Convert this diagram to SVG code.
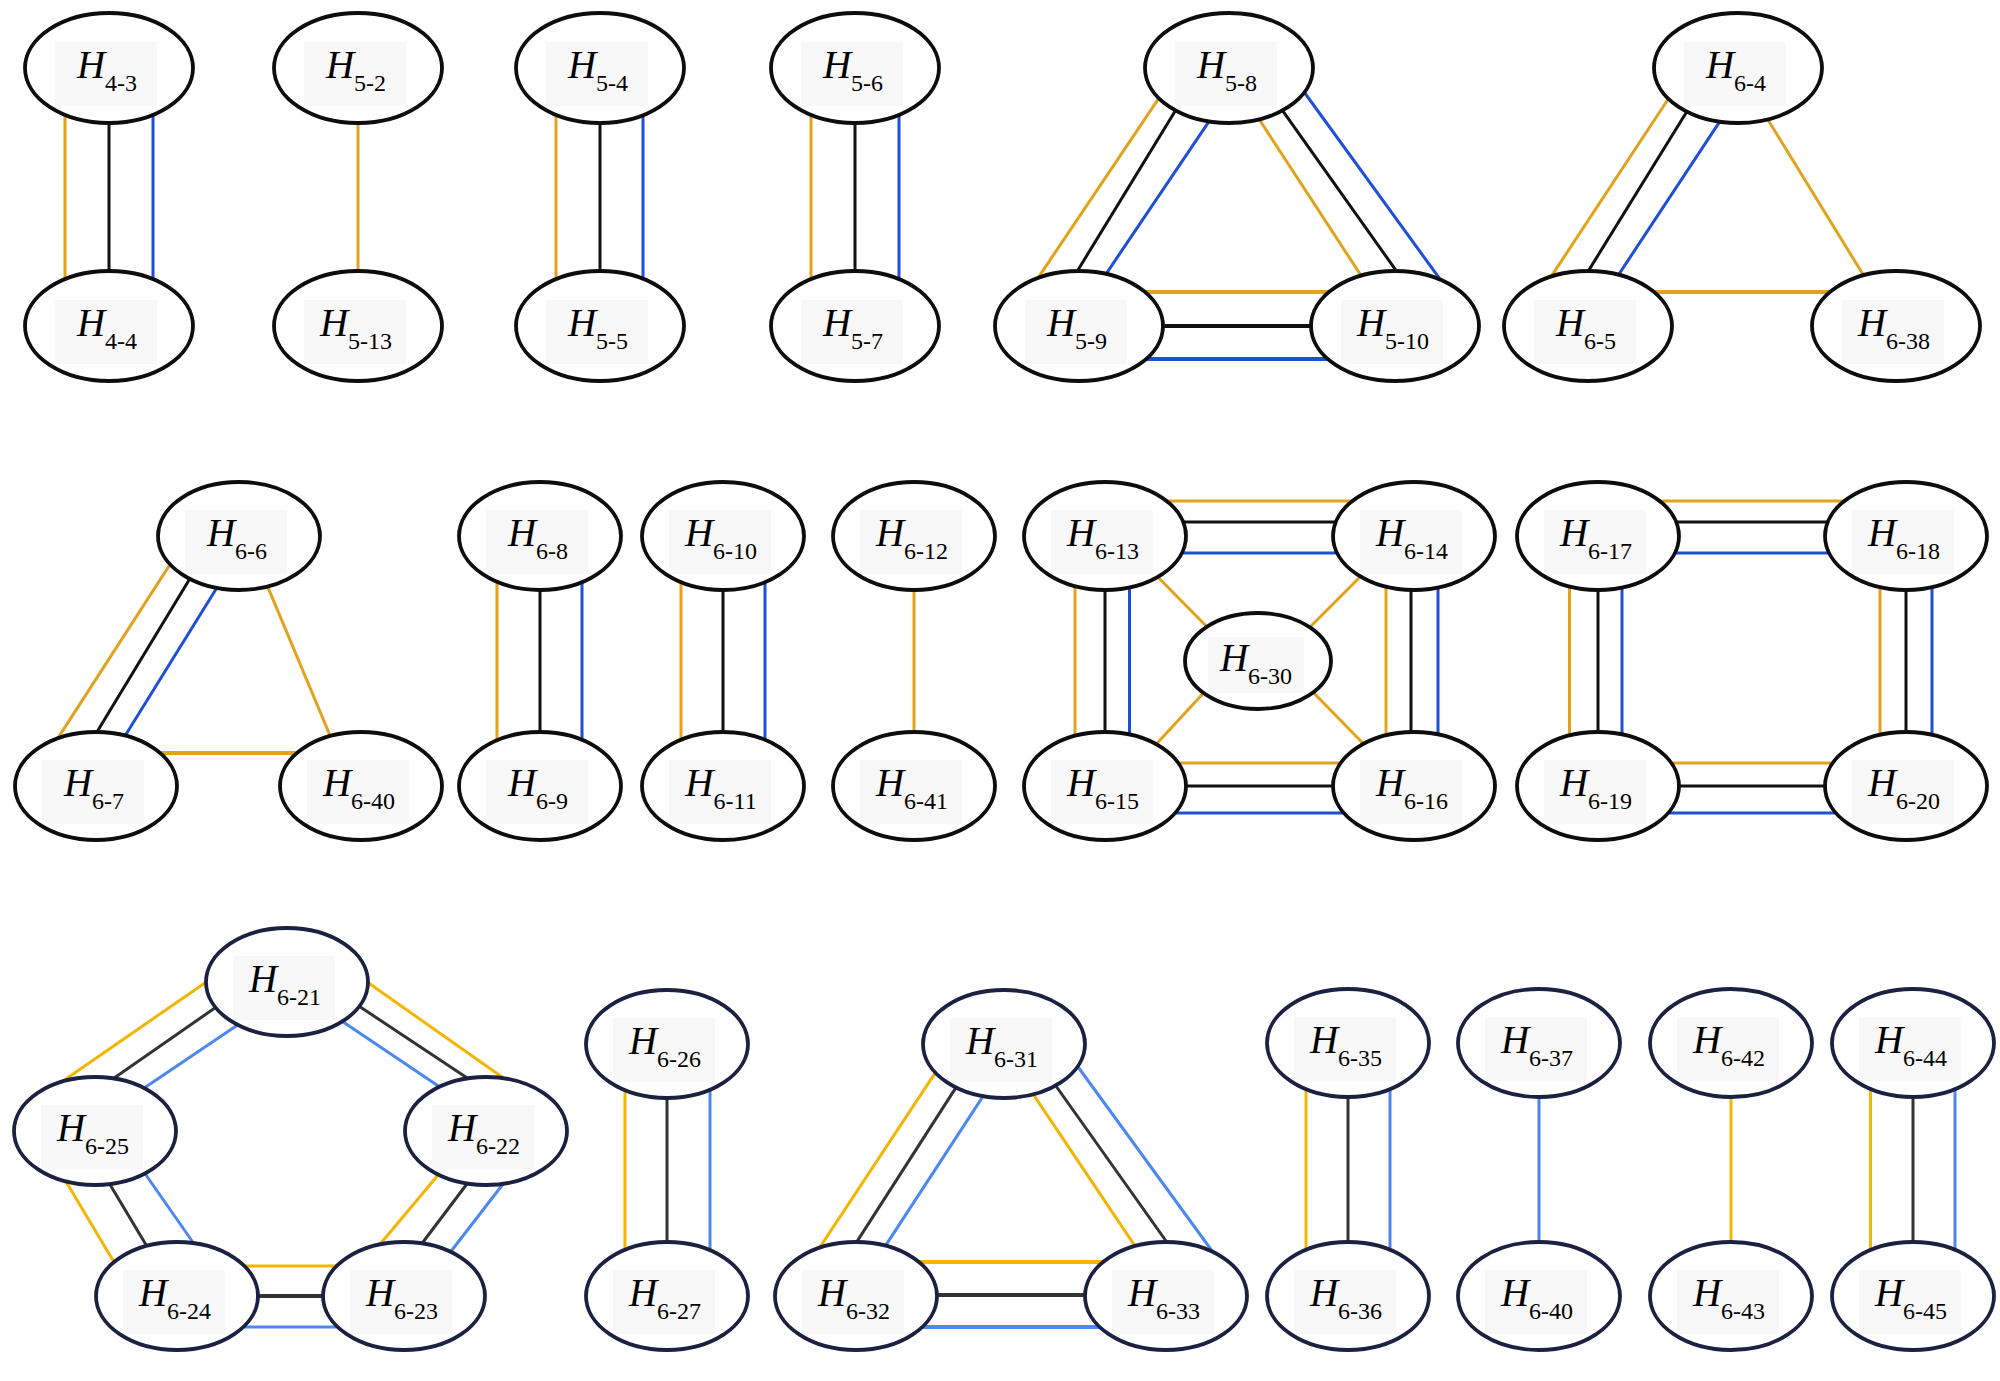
<svg xmlns="http://www.w3.org/2000/svg" width="2000" height="1381" viewBox="0 0 2000 1381">
<style>
.bg{fill:#ffffff}
line{stroke-width:3;fill:none}
.o1{stroke:#e2a31c}
.k1{stroke:#111111}
.b1{stroke:#1f4fd6}
.o3{stroke:#f5b505}
.k3{stroke:#333333}
.b3{stroke:#4d87f0}
.w{stroke-width:4}
.n{fill:#ffffff;stroke:#0d0d0d;stroke-width:3.8}
.n3{fill:#ffffff;stroke:#1b2140;stroke-width:3.8}
.lb{fill:#f8f8f8}
.t{font-family:"Liberation Serif","Times New Roman",serif;font-size:39px;font-style:italic;fill:#000;text-anchor:middle}
.s{font-size:24px;font-style:normal}
</style>
<rect class="bg" x="0" y="0" width="2000" height="1381"/>
<g id="connectors">
<!-- H4-3 / H4-4 -->
<line class="o1" x1="65" y1="68" x2="65" y2="326"/>
<line class="k1" x1="109" y1="68" x2="109" y2="326"/>
<line class="b1" x1="153" y1="68" x2="153" y2="326"/>
<!-- H5-2 / H5-13 -->
<line class="o1" x1="358" y1="68" x2="358" y2="326"/>
<!-- H5-4 / H5-5 -->
<line class="o1" x1="556" y1="68" x2="556" y2="326"/>
<line class="k1" x1="600" y1="68" x2="600" y2="326"/>
<line class="b1" x1="643" y1="68" x2="643" y2="326"/>
<!-- H5-6 / H5-7 -->
<line class="o1" x1="811" y1="68" x2="811" y2="326"/>
<line class="k1" x1="855" y1="68" x2="855" y2="326"/>
<line class="b1" x1="899" y1="68" x2="899" y2="326"/>
<!-- H5-8 triangle -->
<line class="o1" x1="1164.6" y1="89.7" x2="1032.4" y2="286.3"/>
<line class="k1" x1="1181" y1="101.5" x2="1073.4" y2="277.5"/>
<line class="b1" x1="1213.6" y1="114.7" x2="1100.4" y2="282.3"/>
<line class="o1" x1="1253.5" y1="110.6" x2="1365.5" y2="282.4"/>
<line class="k1" x1="1277.8" y1="103.8" x2="1400.8" y2="277.2"/>
<line class="b1" x1="1299" y1="85" x2="1445" y2="286"/>
<line class="o1 w" x1="1079" y1="292" x2="1395" y2="292"/>
<line class="k1 w" x1="1079" y1="326" x2="1395" y2="326"/>
<line class="b1 w" x1="1079" y1="359" x2="1395" y2="359"/>
<!-- H6-4 triangle -->
<line class="o1" x1="1673.5" y1="91" x2="1545.3" y2="285.4"/>
<line class="k1" x1="1692" y1="103.2" x2="1584.3" y2="277.5"/>
<line class="b1" x1="1724.5" y1="114.4" x2="1612.9" y2="283.3"/>
<line class="o1" x1="1763.3" y1="112.2" x2="1869.2" y2="284.5"/>
<line class="o1 w" x1="1588" y1="292" x2="1896" y2="292"/>
<!-- H6-6 triangle -->
<line class="o1" x1="174.4" y1="557.6" x2="52.6" y2="746.4"/>
<line class="k1" x1="193" y1="573.5" x2="92.4" y2="739.5"/>
<line class="b1" x1="222" y1="579.5" x2="120.3" y2="743.5"/>
<line class="o1" x1="264" y1="577.8" x2="334" y2="745"/>
<line class="o1 w" x1="96" y1="753" x2="361" y2="753"/>
<!-- H6-8 / H6-9 -->
<line class="o1" x1="497" y1="536" x2="497" y2="786"/>
<line class="k1" x1="540" y1="536" x2="540" y2="786"/>
<line class="b1" x1="582" y1="536" x2="582" y2="786"/>
<!-- H6-10 / H6-11 -->
<line class="o1" x1="681" y1="536" x2="681" y2="786"/>
<line class="k1" x1="723" y1="536" x2="723" y2="786"/>
<line class="b1" x1="765" y1="536" x2="765" y2="786"/>
<!-- H6-12 / H6-41 -->
<line class="o1" x1="914" y1="536" x2="914" y2="786"/>
<!-- H6-13 square -->
<line class="o1" x1="1105" y1="501" x2="1414" y2="501"/>
<line class="k1" x1="1105" y1="522" x2="1414" y2="522"/>
<line class="b1" x1="1105" y1="553" x2="1414" y2="553"/>
<line class="o1" x1="1075" y1="536" x2="1075" y2="786"/>
<line class="k1" x1="1105" y1="536" x2="1105" y2="786"/>
<line class="b1" x1="1129.5" y1="536" x2="1129.5" y2="786"/>
<line class="o1" x1="1386" y1="536" x2="1386" y2="786"/>
<line class="k1" x1="1411" y1="536" x2="1411" y2="786"/>
<line class="b1" x1="1438" y1="536" x2="1438" y2="786"/>
<line class="o1" x1="1105" y1="763" x2="1414" y2="763"/>
<line class="k1" x1="1105" y1="786" x2="1414" y2="786"/>
<line class="b1" x1="1105" y1="813" x2="1414" y2="813"/>
<line class="o1" x1="1149" y1="568" x2="1212" y2="632"/>
<line class="o1" x1="1367" y1="570" x2="1304" y2="633"/>
<line class="o1" x1="1149" y1="752" x2="1210" y2="686"/>
<line class="o1" x1="1370.5" y1="751" x2="1307" y2="686"/>
<!-- H6-17 square -->
<line class="o1" x1="1598" y1="501" x2="1906" y2="501"/>
<line class="k1" x1="1598" y1="522" x2="1906" y2="522"/>
<line class="b1" x1="1598" y1="553" x2="1906" y2="553"/>
<line class="o1" x1="1569.5" y1="536" x2="1569.5" y2="786"/>
<line class="k1" x1="1598" y1="536" x2="1598" y2="786"/>
<line class="b1" x1="1622" y1="536" x2="1622" y2="786"/>
<line class="o1" x1="1880" y1="536" x2="1880" y2="786"/>
<line class="k1" x1="1906" y1="536" x2="1906" y2="786"/>
<line class="b1" x1="1932" y1="536" x2="1932" y2="786"/>
<line class="o1" x1="1598" y1="763" x2="1906" y2="763"/>
<line class="k1" x1="1598" y1="786" x2="1906" y2="786"/>
<line class="b1" x1="1598" y1="813" x2="1906" y2="813"/>
<!-- pentagon H6-21..25 -->
<line class="o3" x1="215" y1="976" x2="57.6" y2="1084.7"/>
<line class="k3" x1="222" y1="1003" x2="107" y2="1083"/>
<line class="b3" x1="245" y1="1020" x2="139" y2="1091.6"/>
<line class="o3" x1="360" y1="977" x2="512" y2="1084"/>
<line class="k3" x1="352" y1="1001.5" x2="474" y2="1082.5"/>
<line class="b3" x1="338" y1="1018.5" x2="445" y2="1090.5"/>
<line class="o3" x1="60" y1="1171.4" x2="119" y2="1270.6"/>
<line class="k3" x1="104" y1="1174.5" x2="150" y2="1251.5"/>
<line class="b3" x1="139" y1="1165" x2="199" y2="1251"/>
<line class="o3" x1="445.4" y1="1166.3" x2="374.6" y2="1250.7"/>
<line class="k3" x1="473.7" y1="1175" x2="417" y2="1250"/>
<line class="b3" x1="510" y1="1175" x2="447.4" y2="1256"/>
<line class="o3" x1="177" y1="1266" x2="404" y2="1266"/>
<line class="k3 w" x1="177" y1="1296" x2="404" y2="1296"/>
<line class="b3" x1="177" y1="1327" x2="404" y2="1327"/>
<!-- H6-26 / H6-27 -->
<line class="o3" x1="625" y1="1044" x2="625" y2="1296"/>
<line class="k3" x1="667" y1="1044" x2="667" y2="1296"/>
<line class="b3" x1="710" y1="1044" x2="710" y2="1296"/>
<!-- H6-31 triangle -->
<line class="o3" x1="941.5" y1="1063.4" x2="814.5" y2="1255.3"/>
<line class="k3" x1="960.4" y1="1080.6" x2="852.6" y2="1248.4"/>
<line class="b3" x1="988" y1="1088.6" x2="880.5" y2="1253.4"/>
<line class="o3" x1="1027.4" y1="1085.7" x2="1140.6" y2="1254.3"/>
<line class="k3" x1="1051" y1="1079" x2="1171" y2="1248"/>
<line class="b3" x1="1073" y1="1060" x2="1215" y2="1255"/>
<line class="o3 w" x1="856" y1="1262" x2="1166" y2="1262"/>
<line class="k3 w" x1="856" y1="1295" x2="1166" y2="1295"/>
<line class="b3 w" x1="856" y1="1327" x2="1166" y2="1327"/>
<!-- H6-35 / H6-36 -->
<line class="o3" x1="1306" y1="1043" x2="1306" y2="1296"/>
<line class="k3" x1="1348" y1="1043" x2="1348" y2="1296"/>
<line class="b3" x1="1390" y1="1043" x2="1390" y2="1296"/>
<!-- H6-37 / H6-40 -->
<line class="b3" x1="1539" y1="1043" x2="1539" y2="1296"/>
<!-- H6-42 / H6-43 -->
<line class="o3" x1="1731" y1="1043" x2="1731" y2="1296"/>
<!-- H6-44 / H6-45 -->
<line class="o3" x1="1870.5" y1="1043" x2="1870.5" y2="1296"/>
<line class="k3" x1="1913" y1="1043" x2="1913" y2="1296"/>
<line class="b3" x1="1955" y1="1043" x2="1955" y2="1296"/>
</g>
<!-- Row 1 nodes -->
<g id="H4-3" transform="translate(109,68)"><ellipse class="n" rx="84" ry="55"/><rect class="lb" x="-54" y="-26" width="102" height="64"/><text class="t" x="-2" y="10">H<tspan class="s" dy="13">4-3</tspan></text></g>
<g id="H4-4" transform="translate(109,326)"><ellipse class="n" rx="84" ry="55"/><rect class="lb" x="-54" y="-26" width="102" height="64"/><text class="t" x="-2" y="10">H<tspan class="s" dy="13">4-4</tspan></text></g>
<g id="H5-2" transform="translate(358,68)"><ellipse class="n" rx="84" ry="55"/><rect class="lb" x="-54" y="-26" width="102" height="64"/><text class="t" x="-2" y="10">H<tspan class="s" dy="13">5-2</tspan></text></g>
<g id="H5-13" transform="translate(358,326)"><ellipse class="n" rx="84" ry="55"/><rect class="lb" x="-54" y="-26" width="102" height="64"/><text class="t" x="-2" y="10">H<tspan class="s" dy="13">5-13</tspan></text></g>
<g id="H5-4" transform="translate(600,68)"><ellipse class="n" rx="84" ry="55"/><rect class="lb" x="-54" y="-26" width="102" height="64"/><text class="t" x="-2" y="10">H<tspan class="s" dy="13">5-4</tspan></text></g>
<g id="H5-5" transform="translate(600,326)"><ellipse class="n" rx="84" ry="55"/><rect class="lb" x="-54" y="-26" width="102" height="64"/><text class="t" x="-2" y="10">H<tspan class="s" dy="13">5-5</tspan></text></g>
<g id="H5-6" transform="translate(855,68)"><ellipse class="n" rx="84" ry="55"/><rect class="lb" x="-54" y="-26" width="102" height="64"/><text class="t" x="-2" y="10">H<tspan class="s" dy="13">5-6</tspan></text></g>
<g id="H5-7" transform="translate(855,326)"><ellipse class="n" rx="84" ry="55"/><rect class="lb" x="-54" y="-26" width="102" height="64"/><text class="t" x="-2" y="10">H<tspan class="s" dy="13">5-7</tspan></text></g>
<g id="H5-8" transform="translate(1229,68)"><ellipse class="n" rx="84" ry="55"/><rect class="lb" x="-54" y="-26" width="102" height="64"/><text class="t" x="-2" y="10">H<tspan class="s" dy="13">5-8</tspan></text></g>
<g id="H5-9" transform="translate(1079,326)"><ellipse class="n" rx="84" ry="55"/><rect class="lb" x="-54" y="-26" width="102" height="64"/><text class="t" x="-2" y="10">H<tspan class="s" dy="13">5-9</tspan></text></g>
<g id="H5-10" transform="translate(1395,326)"><ellipse class="n" rx="84" ry="55"/><rect class="lb" x="-54" y="-26" width="102" height="64"/><text class="t" x="-2" y="10">H<tspan class="s" dy="13">5-10</tspan></text></g>
<g id="H6-4" transform="translate(1738,68)"><ellipse class="n" rx="84" ry="55"/><rect class="lb" x="-54" y="-26" width="102" height="64"/><text class="t" x="-2" y="10">H<tspan class="s" dy="13">6-4</tspan></text></g>
<g id="H6-5" transform="translate(1588,326)"><ellipse class="n" rx="84" ry="55"/><rect class="lb" x="-54" y="-26" width="102" height="64"/><text class="t" x="-2" y="10">H<tspan class="s" dy="13">6-5</tspan></text></g>
<g id="H6-38" transform="translate(1896,326)"><ellipse class="n" rx="84" ry="55"/><rect class="lb" x="-54" y="-26" width="102" height="64"/><text class="t" x="-2" y="10">H<tspan class="s" dy="13">6-38</tspan></text></g>
<!-- Row 2 nodes -->
<g id="H6-6" transform="translate(239,536)"><ellipse class="n" rx="81" ry="54"/><rect class="lb" x="-54" y="-26" width="102" height="64"/><text class="t" x="-2" y="10">H<tspan class="s" dy="13">6-6</tspan></text></g>
<g id="H6-7" transform="translate(96,786)"><ellipse class="n" rx="81" ry="54"/><rect class="lb" x="-54" y="-26" width="102" height="64"/><text class="t" x="-2" y="10">H<tspan class="s" dy="13">6-7</tspan></text></g>
<g id="H6-40" transform="translate(361,786)"><ellipse class="n" rx="81" ry="54"/><rect class="lb" x="-54" y="-26" width="102" height="64"/><text class="t" x="-2" y="10">H<tspan class="s" dy="13">6-40</tspan></text></g>
<g id="H6-8" transform="translate(540,536)"><ellipse class="n" rx="81" ry="54"/><rect class="lb" x="-54" y="-26" width="102" height="64"/><text class="t" x="-2" y="10">H<tspan class="s" dy="13">6-8</tspan></text></g>
<g id="H6-9" transform="translate(540,786)"><ellipse class="n" rx="81" ry="54"/><rect class="lb" x="-54" y="-26" width="102" height="64"/><text class="t" x="-2" y="10">H<tspan class="s" dy="13">6-9</tspan></text></g>
<g id="H6-10" transform="translate(723,536)"><ellipse class="n" rx="81" ry="54"/><rect class="lb" x="-54" y="-26" width="102" height="64"/><text class="t" x="-2" y="10">H<tspan class="s" dy="13">6-10</tspan></text></g>
<g id="H6-11" transform="translate(723,786)"><ellipse class="n" rx="81" ry="54"/><rect class="lb" x="-54" y="-26" width="102" height="64"/><text class="t" x="-2" y="10">H<tspan class="s" dy="13">6-11</tspan></text></g>
<g id="H6-12" transform="translate(914,536)"><ellipse class="n" rx="81" ry="54"/><rect class="lb" x="-54" y="-26" width="102" height="64"/><text class="t" x="-2" y="10">H<tspan class="s" dy="13">6-12</tspan></text></g>
<g id="H6-41" transform="translate(914,786)"><ellipse class="n" rx="81" ry="54"/><rect class="lb" x="-54" y="-26" width="102" height="64"/><text class="t" x="-2" y="10">H<tspan class="s" dy="13">6-41</tspan></text></g>
<g id="H6-13" transform="translate(1105,536)"><ellipse class="n" rx="81" ry="54"/><rect class="lb" x="-54" y="-26" width="102" height="64"/><text class="t" x="-2" y="10">H<tspan class="s" dy="13">6-13</tspan></text></g>
<g id="H6-14" transform="translate(1414,536)"><ellipse class="n" rx="81" ry="54"/><rect class="lb" x="-54" y="-26" width="102" height="64"/><text class="t" x="-2" y="10">H<tspan class="s" dy="13">6-14</tspan></text></g>
<g id="H6-30" transform="translate(1258,661)"><ellipse class="n" rx="73" ry="48"/><rect class="lb" x="-50" y="-24" width="96" height="56"/><text class="t" x="-2" y="10">H<tspan class="s" dy="13">6-30</tspan></text></g>
<g id="H6-15" transform="translate(1105,786)"><ellipse class="n" rx="81" ry="54"/><rect class="lb" x="-54" y="-26" width="102" height="64"/><text class="t" x="-2" y="10">H<tspan class="s" dy="13">6-15</tspan></text></g>
<g id="H6-16" transform="translate(1414,786)"><ellipse class="n" rx="81" ry="54"/><rect class="lb" x="-54" y="-26" width="102" height="64"/><text class="t" x="-2" y="10">H<tspan class="s" dy="13">6-16</tspan></text></g>
<g id="H6-17" transform="translate(1598,536)"><ellipse class="n" rx="81" ry="54"/><rect class="lb" x="-54" y="-26" width="102" height="64"/><text class="t" x="-2" y="10">H<tspan class="s" dy="13">6-17</tspan></text></g>
<g id="H6-18" transform="translate(1906,536)"><ellipse class="n" rx="81" ry="54"/><rect class="lb" x="-54" y="-26" width="102" height="64"/><text class="t" x="-2" y="10">H<tspan class="s" dy="13">6-18</tspan></text></g>
<g id="H6-19" transform="translate(1598,786)"><ellipse class="n" rx="81" ry="54"/><rect class="lb" x="-54" y="-26" width="102" height="64"/><text class="t" x="-2" y="10">H<tspan class="s" dy="13">6-19</tspan></text></g>
<g id="H6-20" transform="translate(1906,786)"><ellipse class="n" rx="81" ry="54"/><rect class="lb" x="-54" y="-26" width="102" height="64"/><text class="t" x="-2" y="10">H<tspan class="s" dy="13">6-20</tspan></text></g>
<!-- Row 3 nodes -->
<g id="H6-21" transform="translate(287,982)"><ellipse class="n3" rx="81" ry="54"/><rect class="lb" x="-54" y="-26" width="102" height="64"/><text class="t" x="-2" y="10">H<tspan class="s" dy="13">6-21</tspan></text></g>
<g id="H6-22" transform="translate(486,1131)"><ellipse class="n3" rx="81" ry="54"/><rect class="lb" x="-54" y="-26" width="102" height="64"/><text class="t" x="-2" y="10">H<tspan class="s" dy="13">6-22</tspan></text></g>
<g id="H6-23" transform="translate(404,1296)"><ellipse class="n3" rx="81" ry="54"/><rect class="lb" x="-54" y="-26" width="102" height="64"/><text class="t" x="-2" y="10">H<tspan class="s" dy="13">6-23</tspan></text></g>
<g id="H6-24" transform="translate(177,1296)"><ellipse class="n3" rx="81" ry="54"/><rect class="lb" x="-54" y="-26" width="102" height="64"/><text class="t" x="-2" y="10">H<tspan class="s" dy="13">6-24</tspan></text></g>
<g id="H6-25" transform="translate(95,1131)"><ellipse class="n3" rx="81" ry="54"/><rect class="lb" x="-54" y="-26" width="102" height="64"/><text class="t" x="-2" y="10">H<tspan class="s" dy="13">6-25</tspan></text></g>
<g id="H6-26" transform="translate(667,1044)"><ellipse class="n3" rx="81" ry="54"/><rect class="lb" x="-54" y="-26" width="102" height="64"/><text class="t" x="-2" y="10">H<tspan class="s" dy="13">6-26</tspan></text></g>
<g id="H6-27" transform="translate(667,1296)"><ellipse class="n3" rx="81" ry="54"/><rect class="lb" x="-54" y="-26" width="102" height="64"/><text class="t" x="-2" y="10">H<tspan class="s" dy="13">6-27</tspan></text></g>
<g id="H6-31" transform="translate(1004,1044)"><ellipse class="n3" rx="81" ry="54"/><rect class="lb" x="-54" y="-26" width="102" height="64"/><text class="t" x="-2" y="10">H<tspan class="s" dy="13">6-31</tspan></text></g>
<g id="H6-32" transform="translate(856,1296)"><ellipse class="n3" rx="81" ry="54"/><rect class="lb" x="-54" y="-26" width="102" height="64"/><text class="t" x="-2" y="10">H<tspan class="s" dy="13">6-32</tspan></text></g>
<g id="H6-33" transform="translate(1166,1296)"><ellipse class="n3" rx="81" ry="54"/><rect class="lb" x="-54" y="-26" width="102" height="64"/><text class="t" x="-2" y="10">H<tspan class="s" dy="13">6-33</tspan></text></g>
<g id="H6-35" transform="translate(1348,1043)"><ellipse class="n3" rx="81" ry="54"/><rect class="lb" x="-54" y="-26" width="102" height="64"/><text class="t" x="-2" y="10">H<tspan class="s" dy="13">6-35</tspan></text></g>
<g id="H6-36" transform="translate(1348,1296)"><ellipse class="n3" rx="81" ry="54"/><rect class="lb" x="-54" y="-26" width="102" height="64"/><text class="t" x="-2" y="10">H<tspan class="s" dy="13">6-36</tspan></text></g>
<g id="H6-37" transform="translate(1539,1043)"><ellipse class="n3" rx="81" ry="54"/><rect class="lb" x="-54" y="-26" width="102" height="64"/><text class="t" x="-2" y="10">H<tspan class="s" dy="13">6-37</tspan></text></g>
<g id="H6-40b" transform="translate(1539,1296)"><ellipse class="n3" rx="81" ry="54"/><rect class="lb" x="-54" y="-26" width="102" height="64"/><text class="t" x="-2" y="10">H<tspan class="s" dy="13">6-40</tspan></text></g>
<g id="H6-42" transform="translate(1731,1043)"><ellipse class="n3" rx="81" ry="54"/><rect class="lb" x="-54" y="-26" width="102" height="64"/><text class="t" x="-2" y="10">H<tspan class="s" dy="13">6-42</tspan></text></g>
<g id="H6-43" transform="translate(1731,1296)"><ellipse class="n3" rx="81" ry="54"/><rect class="lb" x="-54" y="-26" width="102" height="64"/><text class="t" x="-2" y="10">H<tspan class="s" dy="13">6-43</tspan></text></g>
<g id="H6-44" transform="translate(1913,1043)"><ellipse class="n3" rx="81" ry="54"/><rect class="lb" x="-54" y="-26" width="102" height="64"/><text class="t" x="-2" y="10">H<tspan class="s" dy="13">6-44</tspan></text></g>
<g id="H6-45" transform="translate(1913,1296)"><ellipse class="n3" rx="81" ry="54"/><rect class="lb" x="-54" y="-26" width="102" height="64"/><text class="t" x="-2" y="10">H<tspan class="s" dy="13">6-45</tspan></text></g>
</svg>
